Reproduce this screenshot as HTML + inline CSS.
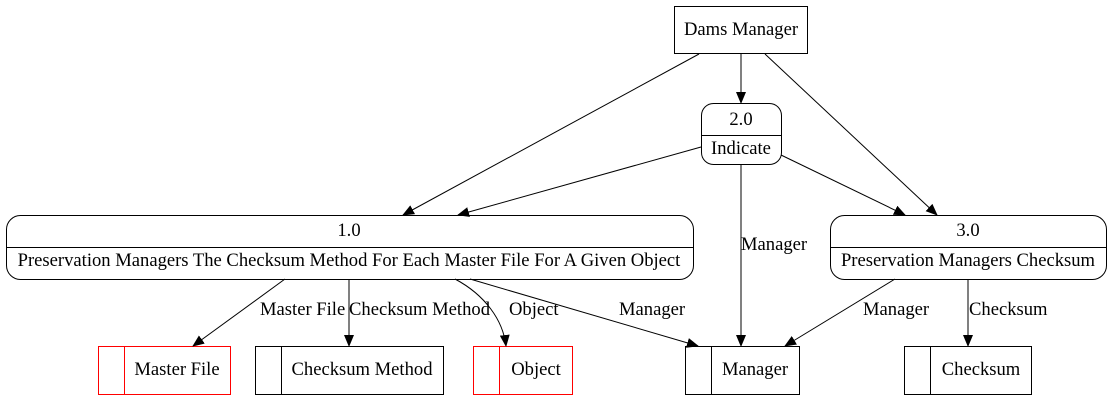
<!DOCTYPE html>
<html><head><meta charset="utf-8"><style>body{margin:0;background:#fff}svg{display:block}</style></head><body>
<svg width="1111" height="400" viewBox="0 0 1111 400" xmlns="http://www.w3.org/2000/svg" font-family="Liberation Serif, serif" font-size="18.6">
<defs><marker id="a" markerWidth="12" markerHeight="10" refX="11" refY="5" orient="auto" markerUnits="userSpaceOnUse"><path d="M0,0 L12,5 L0,10 z" fill="#000"/></marker></defs>
<g fill="none" stroke="#000" stroke-width="1">
<rect x="674.5" y="6.5" width="133" height="47"/>
<rect x="701.5" y="103.5" width="80" height="61" rx="12"/>
<line x1="701.5" y1="135.5" x2="781.5" y2="135.5"/>
<rect x="6.5" y="215.5" width="687" height="64" rx="14"/>
<line x1="6.5" y1="247.5" x2="693.5" y2="247.5"/>
<rect x="830.5" y="215.5" width="276" height="64" rx="14"/>
<line x1="830.5" y1="247.5" x2="1106.5" y2="247.5"/>
<rect x="98.5" y="346.5" width="132" height="48" stroke="#f00"/><line x1="124.5" y1="346.5" x2="124.5" y2="394.5" stroke="#f00"/>
<rect x="255.5" y="346.5" width="188" height="48"/><line x1="281.5" y1="346.5" x2="281.5" y2="394.5"/>
<rect x="473.5" y="346.5" width="99" height="48" stroke="#f00"/><line x1="499.5" y1="346.5" x2="499.5" y2="394.5" stroke="#f00"/>
<rect x="685.5" y="346.5" width="114" height="48"/><line x1="711.5" y1="346.5" x2="711.5" y2="394.5"/>
<rect x="904.5" y="346.5" width="127" height="48"/><line x1="930.5" y1="346.5" x2="930.5" y2="394.5"/>
<g marker-end="url(#a)">
<line x1="741" y1="53" x2="741" y2="103"/>
<line x1="699" y1="54" x2="403" y2="215"/>
<line x1="765" y1="54" x2="937" y2="215"/>
<line x1="701" y1="147" x2="458" y2="215"/>
<line x1="781" y1="155" x2="905" y2="215"/>
<line x1="741" y1="164" x2="741" y2="346"/>
<line x1="285" y1="279" x2="193" y2="346"/>
<line x1="349" y1="279" x2="349" y2="346"/>
<path d="M455,279 C485,295 503,320 506,346"/>
<line x1="470" y1="279" x2="698" y2="346"/>
<line x1="895" y1="279" x2="785" y2="346"/>
<line x1="968" y1="279" x2="968" y2="346"/>
</g></g>
<g text-anchor="middle" fill="#000">
<text x="741" y="35">Dams Manager</text>
<text x="741" y="125">2.0</text>
<text x="741" y="154">Indicate</text>
<text x="349" y="236">1.0</text>
<text x="349" y="266">Preservation Managers The Checksum Method For Each Master File For A Given Object</text>
<text x="968" y="236">3.0</text>
<text x="968" y="266">Preservation Managers Checksum</text>
<text x="177" y="375">Master File</text>
<text x="362" y="375">Checksum Method</text>
<text x="536" y="375">Object</text>
<text x="755" y="375">Manager</text>
<text x="981" y="375">Checksum</text>
</g>
<g fill="#000">
<text x="741" y="250">Manager</text>
<text x="260" y="315">Master File</text>
<text x="349" y="315">Checksum Method</text>
<text x="509" y="315">Object</text>
<text x="619" y="315">Manager</text>
<text x="863" y="315">Manager</text>
<text x="969" y="315">Checksum</text>
</g>
</svg>
</body></html>
